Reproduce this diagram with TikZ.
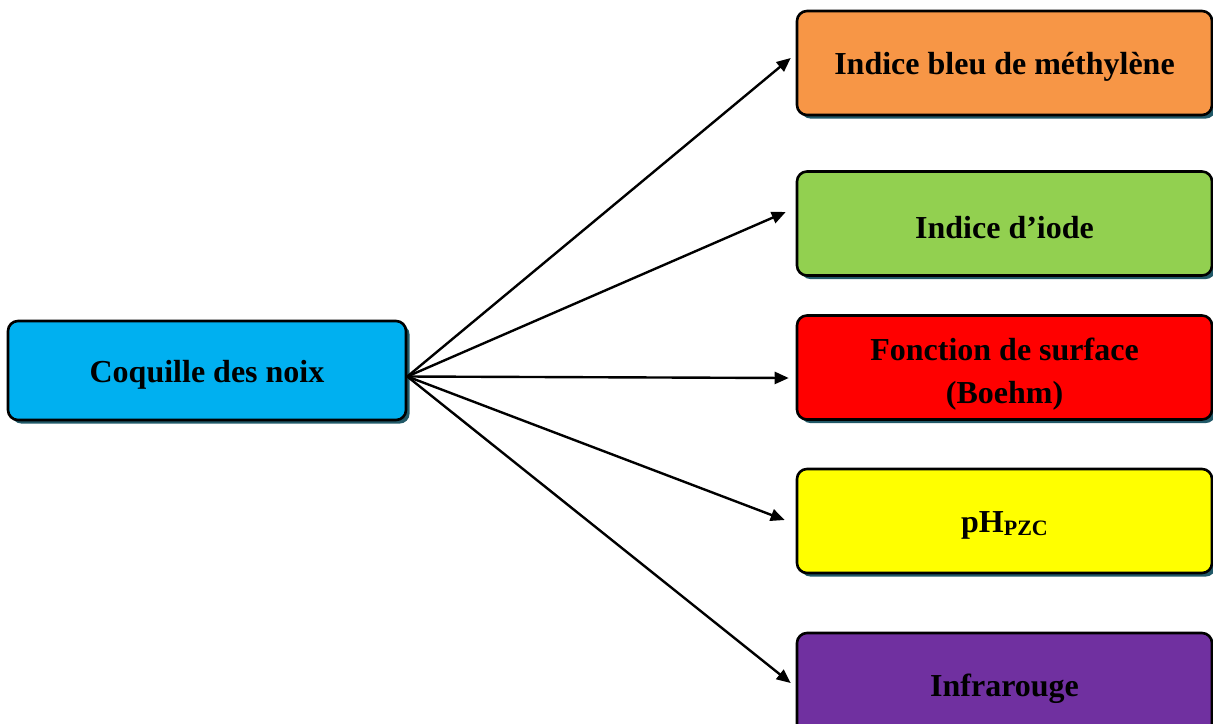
\documentclass[tikz,border=0pt]{standalone}
\usepackage{fontspec}
\setmainfont{Liberation Serif}
\usetikzlibrary{arrows.meta, positioning, shadows}
\definecolor{cblue}{HTML}{00B0F0}
\definecolor{corange}{HTML}{F79646}
\definecolor{cgreen}{HTML}{92D050}
\definecolor{cred}{HTML}{FF0000}
\definecolor{cyellow}{HTML}{FFFF00}
\definecolor{cpurple}{HTML}{7030A0}
\definecolor{cshadow}{HTML}{215968}
\tikzset{
  every picture/.style={line width=1.3pt},
  box/.style={draw=black, fill=#1, rounded corners=5pt, align=center, inner sep=4pt,
    font=\bfseries\fontsize{16}{21.5}\selectfont, minimum height=52pt,
    execute at begin node={\rule{0pt}{15pt}},
    drop shadow={shadow xshift=1.8pt, shadow yshift=-1.8pt, fill=cshadow, opacity=1}},
  box/.default=cblue,
  arrow/.style={-{Triangle[length=7pt, width=6pt]}, draw=black, line width=1.2pt},
}

\begin{document}
\begin{tikzpicture}[x=0.5pt, y=-0.5pt]
  \useasboundingbox (0,0) rectangle (1213,723);
  \node[box=cblue, minimum width=199pt, minimum height=49.5pt] (noix) at (207,370.5) {Coquille des noix};
  \foreach \n/\Y/\c/\dx/\dy/\t in {
     bleu/63/corange/-2.5/2.5/{Indice bleu de méthylène},
     iode/223.5/cgreen/-5/5.75/{Indice d’iode},
     boehm/367.5/cred/-3.5/-5.25/{\rule{0pt}{18pt}Fonction de surface\\(Boehm)},
     phpzc/521/cyellow/-5.5/0.5/{pH\raisebox{-1.5pt}{\fontsize{11}{12}\selectfont PZC}},
     infra/685/cpurple/-2.5/1/{Infrarouge}} {
    \node[box=\c, minimum width=207.5pt] (\n) at (1004.5,\Y) {\t};
    \draw[arrow] ([yshift=-3pt]noix.east) -- ([xshift=\dx pt, yshift=\dy pt]\n.west);
  }
\end{tikzpicture}
\end{document}
